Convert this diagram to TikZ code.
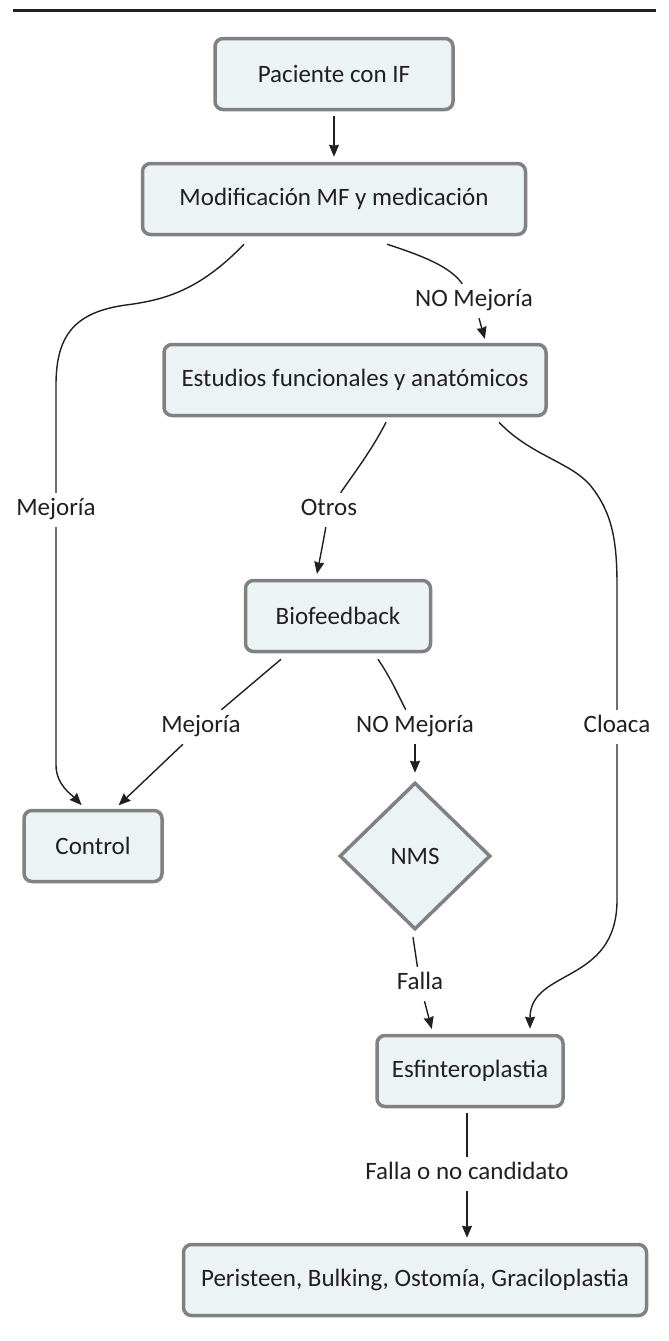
\documentclass[tikz,border=0pt]{standalone}
\usepackage{fontspec}
\setmainfont{Carlito}
\usepackage{tikz}
\usetikzlibrary{positioning,shapes.geometric,arrows.meta,calc}
\definecolor{boxfill}{HTML}{ECF3F5}
\definecolor{boxline}{HTML}{808182}
\definecolor{ink}{HTML}{231F20}

\begin{document}
\begin{tikzpicture}[x=1pt, y=-1pt,
    >={Stealth[length=12pt,width=10pt,inset=1pt]},
    line width=1.4pt, color=ink,
    font=\fontsize{25}{30}\selectfont,
    bb/.style={%
      rectangle, rounded corners=8pt, draw=boxline, line width=3.5pt,
      fill=boxfill, minimum height=71pt, inner sep=0pt, align=center
    },
    dd/.style={%
      diamond, draw=boxline, line width=3.5pt, fill=boxfill,
      minimum width=151pt, minimum height=147pt, inner sep=0pt
    },
    inv/.style={%
      rectangle, draw=none, fill=white, inner sep=6pt,
      text height=16pt, text depth=5pt
    }
]
    \useasboundingbox (0,0) rectangle (669,1341);
    \draw[line width=3pt] (13,10) -- (656,10);

    \node[bb, minimum width=238pt] (pac) at (334,74)   {Paciente con IF};
    \node[bb, minimum width=383pt] (mod) at (334,199)  {Modificación MF y medicación};
    \node[bb, minimum width=382pt] (est) at (355,380)  {Estudios funcionales y anatómicos};
    \node[bb, minimum width=185pt] (bio) at (338,616)  {Biofeedback};
    \node[bb, minimum width=138pt] (ctl) at (93,846)   {Control};
    \node[dd]                      (nms) at (415,856)  {NMS};
    \node[bb, minimum width=186pt] (esf) at (470,1071) {Esfinteroplastia};
    \node[bb, minimum width=463pt] (fin) at (415,1280) {Peristeen, Bulking, Ostomía, Graciloplastia};

    % labels on the connectors
    \node[inv] (mej1)  at (56,510)   {Mejoría};
    \node[inv] (nomej1) at (474,301) {NO Mejoría};
    \node[inv] (otros) at (329,510)  {Otros};
    \node[inv] (cloaca) at (617,727) {Cloaca};
    \node[inv] (mej2)  at (201,727)  {Mejoría};
    \node[inv] (nomej2) at (415,727) {NO Mejoría};
    \node[inv] (falla) at (420,984)  {Falla};
    \node[inv] (fnc)   at (467,1174) {Falla o no candidato};

    \draw[->, shorten <=5pt, shorten >=5pt] (pac) -- (mod);

    \draw ($(mod.south)+(-90,8)$) .. controls (200,290) and (165,300) .. (126,305)
          .. controls (75,312) and (56,335) .. (56,385) -- (mej1);
    \draw[->, shorten >=5pt] (mej1) -- (56,765) .. controls (56,785) and (72,795) .. ($(ctl.north)+(-8,0)$);

    \draw ($(mod.south)+(53,8)$) .. controls (420,255) and (450,266) .. (nomej1);
    \draw[->, shorten >=4pt] (nomej1) -- ($(est.north)+(131,0)$);

    \draw ($(est.south)+(31,5)$) .. controls (372,450) and (352,476) .. (otros);
    \draw[->, shorten >=5pt] (otros) .. controls (322,548) .. ($(bio.north)+(-22,0)$);

    \draw ($(est.south)+(144,5)$) .. controls (530,455) and (570,462) .. (590,485)
          .. controls (612,512) and (617,540) .. (617,585) -- (cloaca);
    \draw[->, shorten >=5pt] (cloaca) -- (617,900) .. controls (617,985) and (530,968) .. ($(esf.north)+(60,0)$);

    \draw ($(bio.south)+(-57,6)$) -- (mej2);
    \draw[->, shorten >=5pt] (mej2) -- ($(ctl.north)+(22,0)$);

    \draw ($(bio.south)+(40,6)$) .. controls (392,680) and (398,695) .. (nomej2);
    \draw[->, shorten >=8pt] (nomej2) -- (nms.north);

    \draw ($(nms.south)+(-2,6)$) -- (falla);
    \draw[->, shorten >=5pt] (falla) -- ($(esf.north)+(-37,0)$);

    \draw ($(esf.south)+(-3,5)$) -- (fnc);
    \draw[->, shorten >=5pt] (fnc) -- ($(fin.north)+(52,0)$);
\end{tikzpicture}
\end{document}
